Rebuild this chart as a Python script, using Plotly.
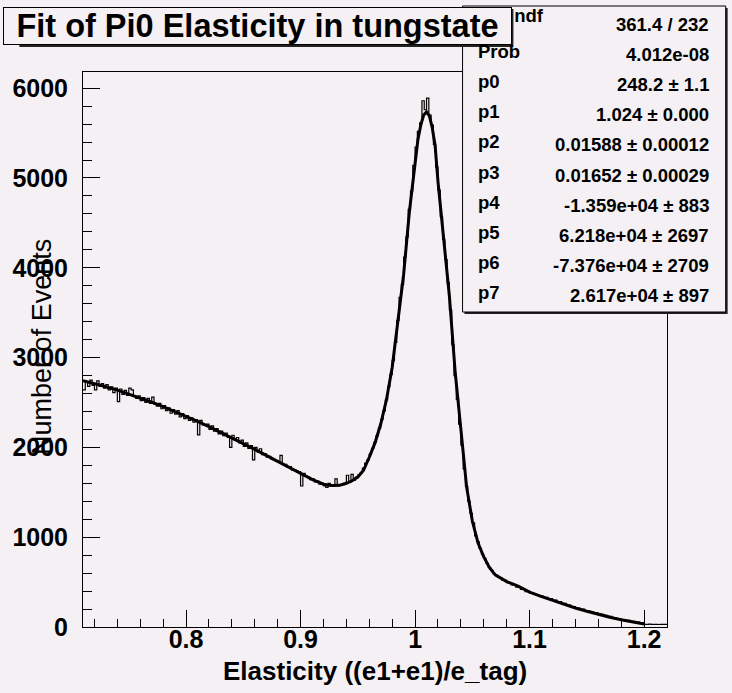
import plotly.graph_objects as go

# ---------------- data ----------------
bin_start = 0.71
bin_width = 0.002
counts = [
    2640, 2730, 2680, 2750, 2690, 2640, 2740, 2680, 2710, 2660,
    2700, 2640, 2675, 2610, 2660, 2510, 2650, 2590, 2635, 2580,
    2660, 2640, 2570, 2545, 2575, 2520, 2555, 2500, 2545, 2490,
    2560, 2480, 2460, 2490, 2430, 2465, 2410, 2440, 2380, 2420,
    2370, 2410, 2340, 2375, 2320, 2355, 2300, 2330, 2280, 2310,
    2140, 2300, 2250, 2250, 2260, 2200, 2240, 2180, 2210, 2150,
    2180, 2130, 2160, 2110, 2000, 2135, 2080, 2110, 2050, 2080,
    2010, 2050, 1990, 2020, 1860, 2000, 1950, 1985, 1920, 1930,
    1890, 1900, 1870, 1860, 1850, 1840, 1910, 1810, 1810, 1780,
    1785, 1750, 1750, 1735, 1730, 1570, 1710, 1680, 1670, 1640,
    1650, 1615, 1625, 1590, 1600, 1570, 1555, 1600, 1565, 1580,
    1650, 1570, 1585, 1585, 1600, 1690, 1610, 1700, 1635, 1670,
    1695, 1715, 1770, 1825, 1860, 1925, 1990, 2055, 2130, 2215,
    2310, 2405, 2530, 2675, 2810, 2965, 3170, 3415, 3670, 3815,
    4120, 4345, 4650, 4855, 5140, 5345, 5520, 5615, 5860, 5760,
    5890, 5700, 5590, 5375, 5120, 4865, 4570, 4315, 4090, 3835,
    3530, 3145, 2800, 2535, 2260, 2025, 1760, 1565, 1400, 1265,
    1160, 1015, 950, 875, 810, 765, 710, 665, 630, 595,
    575, 555, 545, 520, 520, 495, 495, 470, 470, 445,
    450, 420, 425, 395, 400, 375, 375, 363, 360, 345,
    345, 333, 330, 317, 315, 295, 300, 276, 282, 258,
    262, 242, 244, 222, 226, 207, 211, 195, 198, 182,
    183, 175, 169, 160, 157, 147, 143, 134, 130, 121,
    119, 104, 105, 91, 93, 82, 83, 73, 74, 64,
    63, 57, 55, 49, 45, 30, 29, 31, 30, 29,
    30, 28, 30, 29, 30,
]

fit_x = [0.710, 0.720, 0.730, 0.740, 0.750, 0.760, 0.770, 0.780, 0.790, 0.800,
         0.810, 0.820, 0.830, 0.840, 0.850, 0.860, 0.870, 0.880, 0.890, 0.900,
         0.910, 0.920, 0.925, 0.930, 0.935, 0.940, 0.945, 0.950, 0.955, 0.960,
         0.965, 0.970, 0.975, 0.980, 0.985, 0.990, 0.995, 1.000, 1.0025, 1.005,
         1.0075, 1.010, 1.0125, 1.015, 1.0175, 1.020, 1.025, 1.030, 1.035, 1.040,
         1.045, 1.050, 1.055, 1.060, 1.065, 1.070, 1.075, 1.080, 1.090, 1.100,
         1.110, 1.120, 1.130, 1.140, 1.150, 1.160, 1.170, 1.180, 1.190, 1.200]
fit_y = [2742, 2710, 2675, 2637, 2595, 2551, 2503, 2454, 2401, 2347,
         2290, 2231, 2170, 2107, 2043, 1978, 1911, 1845, 1777, 1710,
         1645, 1590, 1578, 1576, 1582, 1600, 1628, 1670, 1745, 1890,
         2050, 2260, 2530, 2890, 3440, 3925, 4620, 5210, 5430, 5590,
         5700, 5735, 5690, 5560, 5360, 4960, 4300, 3680, 2840, 2160,
         1560, 1180, 935, 780, 660, 580, 540, 505, 454, 388,
         342, 296, 252, 212, 175, 140, 108, 80, 55, 34]

title_text = "Fit of Pi0 Elasticity in tungstate"
x_title = "Elasticity ((e1+e1)/e_tag)"
y_title = "Number of Events"
stats_labels = ["χ² / ndf", "Prob", "p0", "p1", "p2", "p3", "p4", "p5", "p6", "p7"]
stats_values = ["361.4 / 232", "4.012e-08", "248.2 ± 1.1", "1.024 ± 0.000",
                "0.01588 ± 0.00012", "0.01652 ± 0.00029", "-1.359e+04 ± 883",
                "6.218e+04 ± 2697", "-7.376e+04 ± 2709", "2.617e+04 ± 897"]

# ---------------- styling / layout ----------------
W, H = 732, 693
L, R, T, B = 70, 667, 72, 627
BG = "#f4f0f4"
FONT = "Liberation Sans"


def px(xp):
    return (xp - L) / (R - L)


def py(yp):
    return (B - yp) / (B - T)


edges = [bin_start + i * bin_width for i in range(len(counts) + 1)]
hist_y = counts + [counts[-1]]

fig = go.Figure()
fig.add_trace(go.Scatter(x=edges, y=hist_y, mode="lines", line=dict(shape="hv", color="black", width=1.2),
                         showlegend=False, hoverinfo="skip"))
fig.add_trace(go.Scatter(x=fit_x, y=fit_y, mode="lines", line=dict(color="black", width=3),
                         showlegend=False, hoverinfo="skip"))

fig.update_layout(
    width=W, height=H,
    margin=dict(l=L, r=W - R, t=T, b=H - B),
    paper_bgcolor=BG, plot_bgcolor=BG,
    font=dict(family=FONT, color="black"),
    showlegend=False,
)
fig.update_xaxes(
    range=[0.71, 1.22], showgrid=False, zeroline=False,
    showline=True, mirror=True, linecolor="black", linewidth=1,
    ticks="inside", ticklen=17, tickcolor="black", tickwidth=1,
    tick0=0, dtick=0.1,
    minor=dict(dtick=0.02, ticks="inside", ticklen=8.5, tickcolor="black", tickwidth=1),
    tickfont=dict(family=FONT, size=25, weight="bold", color="black"),
    ticklabelstandoff=-10,
)
fig.update_yaxes(
    range=[0, 6180], showgrid=False, zeroline=False,
    showline=True, mirror=True, linecolor="black", linewidth=1,
    ticks="inside", ticklen=17, tickcolor="black", tickwidth=1,
    tick0=0, dtick=1000, tickformat="d",
    minor=dict(dtick=200, ticks="inside", ticklen=8.5, tickcolor="black", tickwidth=1),
    tickfont=dict(family=FONT, size=25, weight="bold", color="black"),
    ticklabelstandoff=9,
)

shapes = [
    # stats box shadow + box
    dict(type="rect", xref="paper", yref="paper", x0=px(460), x1=px(729), y0=py(314), y1=py(8),
         fillcolor="#222222", line=dict(width=0), layer="above"),
    dict(type="rect", xref="paper", yref="paper", x0=px(458), x1=px(727), y0=py(312), y1=py(6),
         fillcolor=BG, line=dict(color="black", width=1), layer="above"),
    # title box shadow
    dict(type="rect", xref="paper", yref="paper", x0=px(5), x1=px(510), y0=py(47), y1=py(9),
         fillcolor="#222222", line=dict(width=0), layer="above"),
]
fig.update_layout(shapes=shapes)

annotations = []
row0 = 24
row_step = 30.2
for i, (lab, val) in enumerate(zip(stats_labels, stats_values)):
    yc = row0 + i * row_step
    lx = 472 if i > 0 else 476
    ly = yc - 3 if i > 0 else yc - 8
    annotations.append(dict(text=lab, x=px(lx), y=py(ly), xref="paper", yref="paper",
                            xanchor="left", yanchor="middle", showarrow=False,
                            font=dict(family=FONT, size=18.5, weight="bold", color="black")))
    annotations.append(dict(text=val, x=px(712), y=py(yc), xref="paper", yref="paper",
                            xanchor="right", yanchor="middle", showarrow=False,
                            font=dict(family=FONT, size=18.5, weight="bold", color="black")))

# title box (drawn after the stats text so it hides the start of the first label)
annotations.append(dict(text=title_text, x=px(-12), y=py(7), xref="paper", yref="paper",
                        xanchor="left", yanchor="top", showarrow=False,
                        width=507, height=36, borderpad=0, align="center", valign="middle",
                        bgcolor=BG, bordercolor="black", borderwidth=1,
                        font=dict(family=FONT, size=32.5, weight="bold", color="black")))
# axis titles
annotations.append(dict(text=x_title, x=px(368), y=py(671), xref="paper", yref="paper",
                        xanchor="center", yanchor="middle", showarrow=False,
                        font=dict(family=FONT, size=26, weight="bold", color="black")))
annotations.append(dict(text=y_title, x=px(28), y=py(347), xref="paper", yref="paper",
                        xanchor="center", yanchor="middle", showarrow=False, textangle=-90,
                        font=dict(family=FONT, size=27, color="black")))
fig.update_layout(annotations=annotations)

fig.write_html("out.html")
